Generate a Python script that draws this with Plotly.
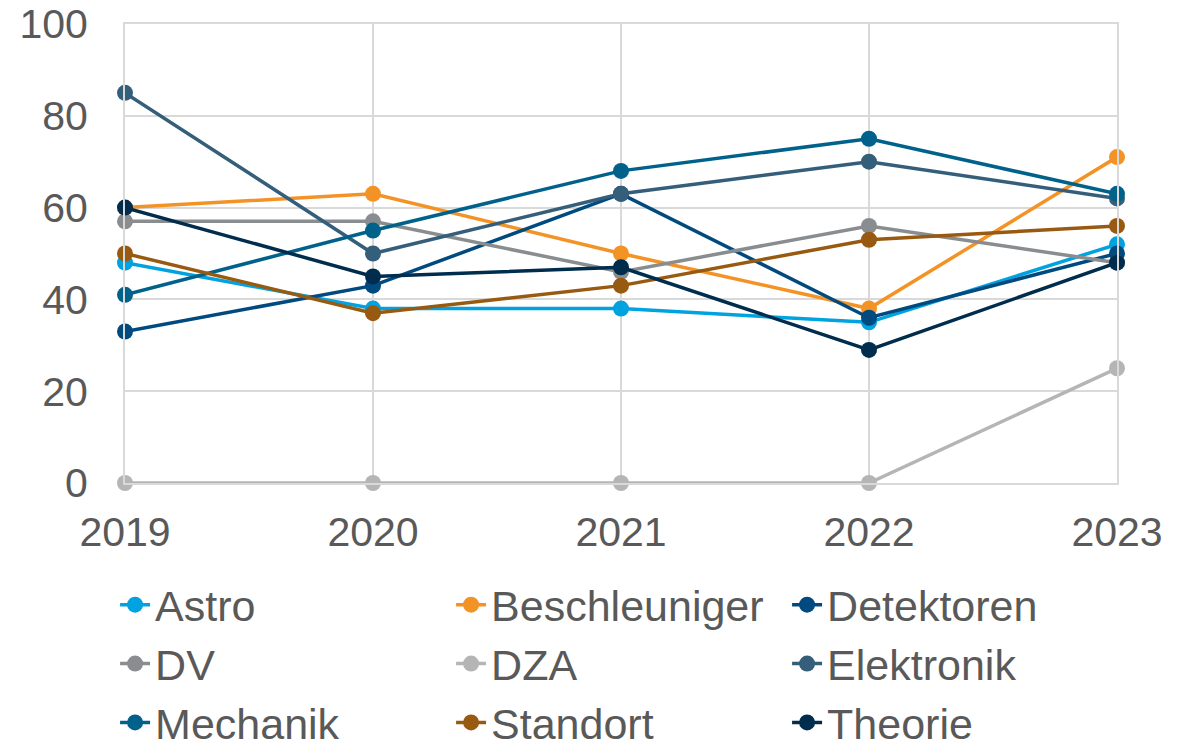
import plotly.graph_objects as go

years = [2019, 2020, 2021, 2022, 2023]
astro = [48, 38, 38, 35, 52]
beschleuniger = [60, 63, 50, 38, 71]
detektoren = [33, 43, 63, 36, 50]
dv = [57, 57, 46, 56, 48]
dza = [0, 0, 0, 0, 25]
elektronik = [85, 50, 63, 70, 62]
mechanik = [41, 55, 68, 75, 63]
standort = [50, 37, 43, 53, 56]
theorie = [60, 45, 47, 29, 48]

series = [
    ("Astro", astro, "#00a3e0"),
    ("Beschleuniger", beschleuniger, "#f39325"),
    ("Detektoren", detektoren, "#004a7f"),
    ("DV", dv, "#8a8d8f"),
    ("DZA", dza, "#b4b5b4"),
    ("Elektronik", elektronik, "#355e7b"),
    ("Mechanik", mechanik, "#00628b"),
    ("Standort", standort, "#985a10"),
    ("Theorie", theorie, "#002c4d"),
]

fig = go.Figure()
for name, vals, col in series:
    fig.add_trace(go.Scatter(
        x=years, y=vals, name=name, mode="lines+markers",
        line=dict(color=col, width=3.5),
        marker=dict(color=col, size=16),
        cliponaxis=False,
    ))

grid = "#d9d9d9"
fig.update_layout(
    width=1191, height=752,
    margin=dict(l=125, r=74, t=24, b=269, autoexpand=False),
    paper_bgcolor="white", plot_bgcolor="white",
    font=dict(family="Liberation Sans, Arial, sans-serif", size=41, color="#595959"),
    showlegend=True,
    legend=dict(
        orientation="h", x=-0.01, xanchor="left", y=-0.19, yanchor="top",
        entrywidth=291, entrywidthmode="pixels",
        font=dict(size=43, color="#595959"),
        itemwidth=30,
    ),
)
fig.update_xaxes(
    range=[2019, 2023], tickvals=years, ticktext=[str(y) for y in years],
    showgrid=True, gridcolor=grid, gridwidth=2,
    showline=True, linecolor=grid, linewidth=2, mirror=True,
    zeroline=False, ticks="", ticklabelstandoff=12,
)
fig.update_yaxes(
    range=[0, 100], tickvals=[0, 20, 40, 60, 80, 100],
    showgrid=True, gridcolor=grid, gridwidth=2,
    showline=True, linecolor=grid, linewidth=2, mirror=True,
    zeroline=False, ticks="", ticklabelstandoff=27,
)
fig.write_html("out.html", config={"displayModeBar": False},
               post_script="document.body.style.margin='0';")
